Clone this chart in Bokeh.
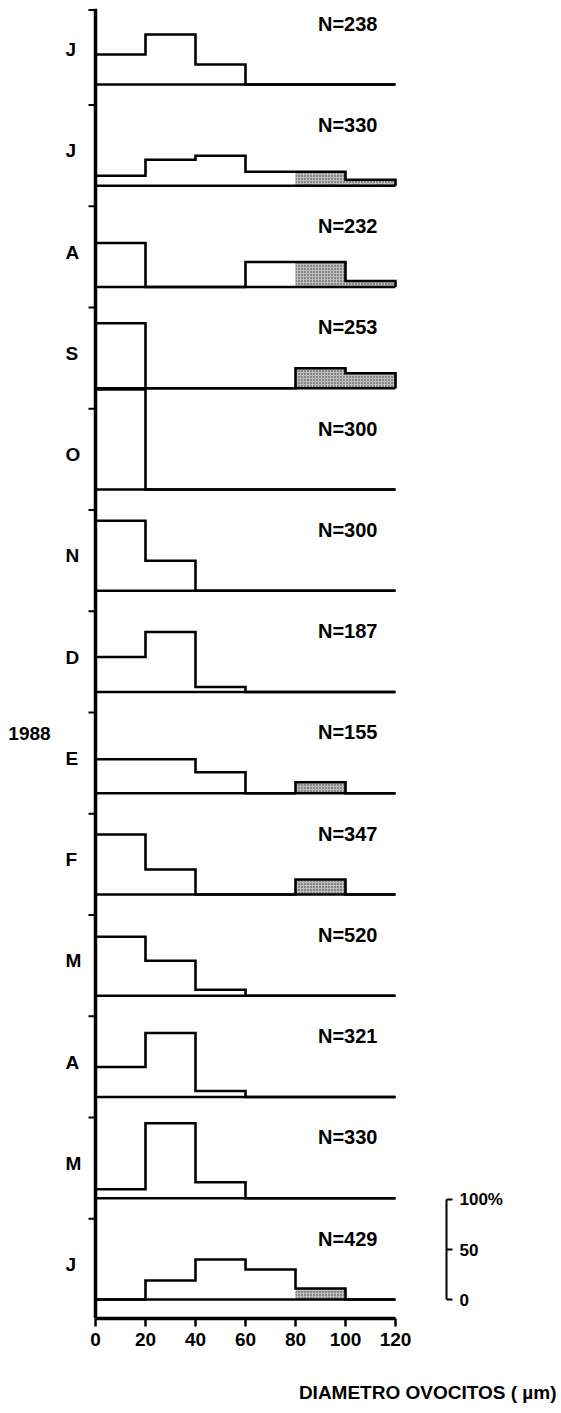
from bokeh.plotting import figure
from bokeh.layouts import column
from bokeh.models import FixedTicker
from bokeh.core.properties import value
from bokeh.embed import file_html
from bokeh.resources import INLINE

# ---------------- data ----------------
months = ["J", "J", "A", "S", "O", "N", "D", "E", "F", "M", "A", "M", "J"]
year_label = "1988"
year_month_index = 7            # the "E" (enero) panel starts 1988
n_samples = [238, 330, 232, 253, 300, 300, 187, 155, 347, 520, 321, 330, 429]
bin_edges = [0, 20, 40, 60, 80, 100, 120]
mature_from = 80                # classes from 80 µm are stippled

# percentage of oocytes per 20 µm class (0-20, 20-40, ..., 100-120)
jun87 = [30, 50, 20, 0, 0, 0]
jul87 = [10, 26, 30, 14, 14, 6]
aug87 = [44, 0, 0, 25, 25, 6]
sep87 = [65, 0, 0, 0, 20, 15]
oct87 = [100, 0, 0, 0, 0, 0]
nov87 = [70, 30, 0, 0, 0, 0]
dec87 = [35, 60, 5, 0, 0, 0]
jan88 = [34, 34, 21, 0, 11, 0]
feb88 = [60, 25, 0, 0, 15, 0]
mar88 = [59, 35, 6, 0, 0, 0]
apr88 = [30, 64, 6, 0, 0, 0]
may88 = [9, 75, 16, 0, 0, 0]
jun88 = [0, 19, 40, 30, 11, 0]

x_ticks = [0, 20, 40, 60, 80, 100, 120]
scale_values = [0, 50, 100]
scale_labels = ["0", "50", "100%"]
x_title = "DIAMETRO OVOCITOS ( µm)"

series = [jun87, jul87, aug87, sep87, oct87, nov87, dec87,
          jan88, feb88, mar88, apr88, may88, jun88]

# ---------------- layout ----------------
FONT = "Liberation Sans"
STEP = 101.25                    # vertical spacing between panels (in % units)
n = len(months)
base = [(n - 1 - i) * STEP for i in range(n)]
Y0, Y1 = -19, 1291
FW = 551
X0 = -34.8
X1 = X0 + FW / 2.5

p = figure(frame_width=FW, frame_height=1310, x_range=(X0, X1), y_range=(Y0, Y1),
           output_backend="svg", toolbar_location=None, y_axis_location=None,
           min_border_left=8, min_border_right=0, min_border_top=8, min_border_bottom=36)
p.outline_line_color = None
p.grid.visible = False
p.background_fill_color = "white"
p.border_fill_color = "white"

ax = p.xaxis[0]
ax.ticker = FixedTicker(ticks=x_ticks)
ax.bounds = (bin_edges[0], bin_edges[-1])
ax.axis_line_width = 3.5
ax.axis_line_color = "black"
ax.major_tick_out = 8
ax.major_tick_in = 0
ax.major_tick_line_width = 2.5
ax.major_tick_line_color = "black"
ax.minor_tick_line_color = None
ax.major_label_text_font = FONT
ax.major_label_text_font_size = "19px"
ax.major_label_text_font_style = "bold"
ax.major_label_text_color = "black"
ax.major_label_standoff = 6

# stippled (mature) classes
ql, qr, qb, qt = [], [], [], []
for b, vals in zip(base, series):
    for j, h in enumerate(vals):
        if bin_edges[j] >= mature_from and h > 0:
            ql.append(bin_edges[j]); qr.append(bin_edges[j + 1])
            qb.append(b); qt.append(b + h)
p.quad(left=ql, right=qr, bottom=qb, top=qt, fill_color="#bcbcbc", line_color=None,
       hatch_pattern="dot", hatch_color="#333333", hatch_scale=3, hatch_weight=0.7)

# baselines
p.segment(x0=[bin_edges[0]] * n, y0=base, x1=[bin_edges[-1]] * n, y1=base,
          line_color="black", line_width=2.5)

# histogram outlines
xs, ys = [], []
for b, vals in zip(base, series):
    px, py = [bin_edges[0]], [b]
    for j, h in enumerate(vals):
        px += [bin_edges[j], bin_edges[j + 1]]
        py += [b + h, b + h]
    px.append(bin_edges[-1]); py.append(b)
    xs.append(px); ys.append(py)
p.multi_line(xs, ys, line_color="black", line_width=2.6, line_join="miter")

# vertical axis and panel separators
p.segment(x0=[0], y0=[Y0], x1=[0], y1=[Y1], line_color="black", line_width=3.5)
tick_y = [Y1 - 1.5] + [b + 80.75 for b in base[1:]]
p.segment(x0=[-2.8] * len(tick_y), y0=tick_y, x1=[0] * len(tick_y), y1=tick_y,
          line_color="black", line_width=2)

# month labels
p.text(x=[-12] * n, y=[b + 35 for b in base], text=months, text_font=value(FONT),
       text_font_size="19px", text_font_style="bold", text_align="left",
       text_baseline="middle", text_color="black")
p.text(x=[-26.4], y=[base[year_month_index] + 60], text=[year_label], text_font=value(FONT),
       text_font_size="19px", text_font_style="bold", text_align="center",
       text_baseline="middle", text_color="black")

# N labels
p.text(x=[89] * n, y=[b + 61 for b in base], text=[f"N={v}" for v in n_samples],
       text_font=value(FONT), text_font_size="20px", text_font_style="bold",
       text_align="left", text_baseline="middle", text_color="black")

# 0-100 % scale bar (drawn on the bottom panel's scale)
sb = base[-1]
sx = 140.4
p.segment(x0=[sx], y0=[sb + scale_values[0]], x1=[sx], y1=[sb + scale_values[-1]],
          line_color="black", line_width=2)
p.segment(x0=[sx] * len(scale_values), y0=[sb + v for v in scale_values],
          x1=[sx + 2.4] * len(scale_values), y1=[sb + v for v in scale_values],
          line_color="black", line_width=2)
p.text(x=[sx + 5.2] * len(scale_values), y=[sb + v for v in scale_values], text=scale_labels,
       text_font=value(FONT), text_font_size="17px", text_font_style="bold",
       text_align="left", text_baseline="middle", text_color="black")

# strip below the axis holding the axis title (right-aligned)
t = figure(frame_width=FW, frame_height=51, x_range=p.x_range, y_range=(0, 51),
           output_backend="svg", toolbar_location=None, x_axis_location=None,
           y_axis_location=None, min_border_left=8, min_border_right=0,
           min_border_top=0, min_border_bottom=0)
t.outline_line_color = None
t.grid.visible = False
t.text(x=[X0 + 548 / 2.5], y=[13], text=[x_title], text_font=value(FONT),
       text_font_size="19px", text_font_style="bold", text_align="right",
       text_baseline="middle", text_color="black")

layout = column(p, t, spacing=0)
open("out.html", "w").write(file_html(layout, INLINE))
